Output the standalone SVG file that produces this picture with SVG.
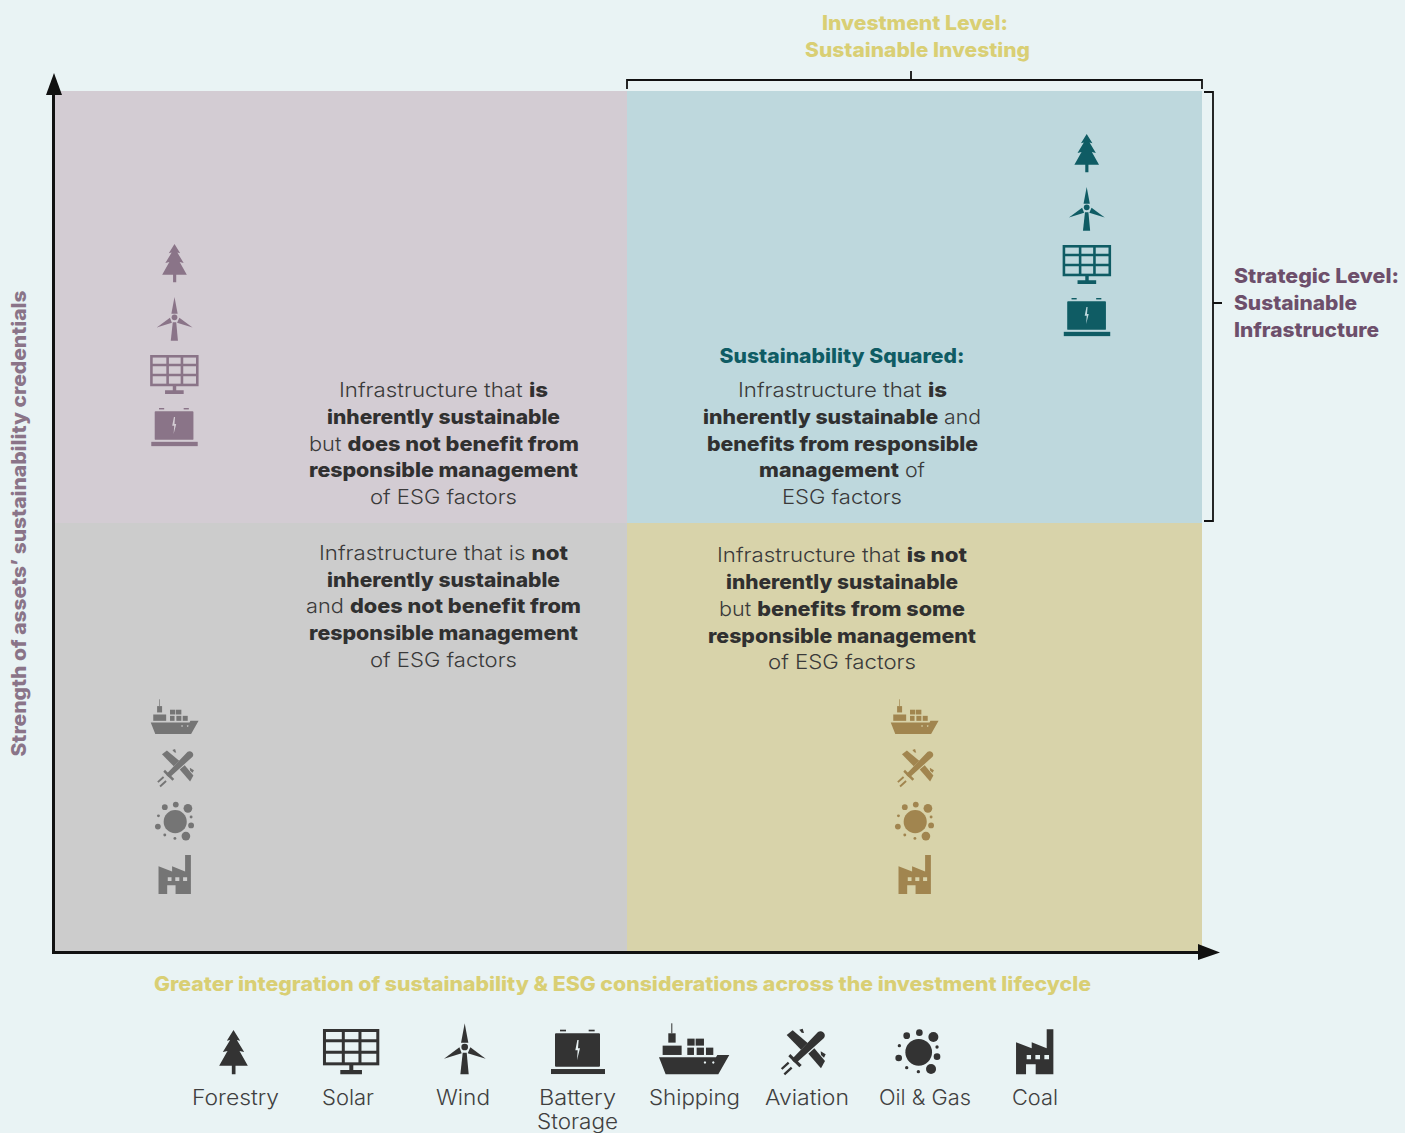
<svg xmlns="http://www.w3.org/2000/svg" xmlns:xlink="http://www.w3.org/1999/xlink" width="1405" height="1133" viewBox="0 0 1405 1133">
<style>
text{font-family:"Inter","Liberation Sans",sans-serif;}
.b{font-size:20px;fill:#3a3a3a;text-anchor:middle;font-weight:300}
.b tspan{font-weight:800;fill:#303030}
.l{font-size:21px;fill:#404040;text-anchor:middle;font-weight:300}
.h{font-size:20px;font-weight:800}
.y{fill:#d9cf74}.p{fill:#6d4f6b}.t{fill:#0f5c64}
.br{fill:none;stroke:#111;stroke-width:1.8}
</style>
<defs>
<g id="tree"><polygon points="0,0 20,32 10,30 32,66 18,63 43,107 6,107 6,133 -5,133 -5,107 -43,107 -18,63 -32,66 -10,30 -20,32" fill="currentColor"/></g>
<g id="solar"><g fill="none" stroke="currentColor" stroke-width="9"><rect x="-80.500" y="4.500" width="160" height="100"/><path d="M-24 4V105M26 4V105M-81 35H80M-81 70H80"/></g><path d="M-6 105H6V123H32V136H-33V123H-6Z" fill="currentColor"/></g>
<g id="wind" fill="currentColor"><polygon points="0,0 11,58 -11,58"/><circle cx="0" cy="71" r="10"/><polygon points="-13,153 12,153 6,88 -6,88"/><polygon points="-62,106 -16,72 -9,90"/><polygon points="63,106 17,72 9,90"/></g>
<g id="battery" fill="currentColor"><path fill-rule="evenodd" d="M-66 11H63Q66 11 66 14V108Q66 111 63 111H-66Q-69 111 -69 108V14Q-69 11 -66 11ZM-2 31L-8 62H-1L-3 91L6 56H0L2 31Z"/><rect x="-54" y="0" width="18" height="5"/><rect x="32" y="0" width="18" height="5"/><rect x="-81" y="118" width="162" height="15"/></g>
<g id="ship" fill="currentColor"><rect x="-66" y="0" width="3" height="30"/><rect x="-75" y="30" width="22" height="28"/><rect x="-92" y="67" width="57" height="28"/><rect x="-18" y="46" width="22" height="21"/><rect x="7" y="46" width="25" height="21"/><rect x="-18" y="73" width="20" height="22"/><rect x="10" y="73" width="22" height="22"/><rect x="38" y="73" width="22" height="22"/><path fill-rule="evenodd" d="M-103 102H68L72 95H108L75 153H-83ZM35 114a3.500 3.500 0 1 0 .01 0ZM60 114a3.500 3.500 0 1 0 .01 0Z"/></g>
<g id="plane" fill="currentColor"><path d="M39 3A13 13 0 0 1 57 21L-24 94Q-29 98 -36 91Q-41 86 -36 81Z"/><polygon points="-55,12 -37,-2 8,36 -12,56"/><polygon points="10,68 28,52 60,90 48,112"/><polygon points="-50,76 -44,69 -10,102 -17,109"/><polygon points="-17,-4 -7,-7 -3,6 -10,5"/><polygon points="47,61 62,70 57,80 48,72"/><path d="M-70 114L-49 95M-62 130L-40 110" stroke="currentColor" stroke-width="7" fill="none"/></g>
<g id="oil" fill="currentColor"><circle cx="0" cy="69" r="40"/><circle cx="2" cy="10" r="10"/><circle cx="44" cy="23" r="15"/><circle cx="-36" cy="19" r="10"/><circle cx="-58" cy="49" r="5"/><circle cx="55" cy="53" r="5"/><circle cx="-60" cy="86" r="10"/><circle cx="55" cy="82" r="10"/><circle cx="-36" cy="115" r="5"/><circle cx="-1" cy="127" r="5"/><circle cx="37" cy="119" r="15"/></g>
<g id="coal"><path fill="currentColor" fill-rule="evenodd" d="M-56 135V39L-9 57V39L36 57V0H56V135H3V105H-26V135ZM-24 77V90H-11V77ZM2 77V90H16V77ZM29 77V90H43V77Z"/></g>
</defs>
<rect id="background" width="1405" height="1133" fill="#e9f3f4"/>
<g id="quadrants">
<rect x="54" y="91" width="573" height="432" fill="#d3ccd3"/>
<rect x="627" y="91" width="575" height="432" fill="#bed8dd"/>
<rect x="54" y="523" width="573" height="428" fill="#cccccc"/>
<rect x="627" y="523" width="575" height="428" fill="#d8d3aa"/>
</g>
<g id="connectors">
<path d="M53.500 88V952.500H1203" fill="none" stroke="#111" stroke-width="3"/>
<polygon points="46,95 54,73 62,95" fill="#111"/>
<polygon points="1198,944 1220,952.500 1198,960" fill="#111"/>
<path class="br" d="M627 89V80H1202V89M911 80V71"/>
<path class="br" d="M1204 92H1213V521H1204M1213 303H1222"/>
</g>
<g id="quadrant-top-left">
<text class="b" x="443.500" y="397" textLength="209" lengthAdjust="spacingAndGlyphs">Infrastructure that <tspan>is</tspan></text>
<text class="b" x="443.500" y="424" textLength="233" lengthAdjust="spacingAndGlyphs"><tspan>inherently sustainable</tspan></text>
<text class="b" x="444" y="451" textLength="270" lengthAdjust="spacingAndGlyphs">but <tspan>does not benefit from</tspan></text>
<text class="b" x="443.500" y="477" textLength="269" lengthAdjust="spacingAndGlyphs"><tspan>responsible management</tspan></text>
<text class="b" x="443.500" y="504" textLength="147" lengthAdjust="spacingAndGlyphs">of ESG factors</text>
<g color="#8a7488">
<use xlink:href="#tree" href="#tree" transform="translate(174.500 244) scale(.2867)"/>
<use xlink:href="#wind" href="#wind" transform="translate(174.500 297) scale(.2867)"/>
<use xlink:href="#solar" href="#solar" transform="translate(174.500 355) scale(.2867)"/>
<use xlink:href="#battery" href="#battery" transform="translate(174.500 408) scale(.2867)"/>
</g>
</g>
<g id="quadrant-top-right">
<text class="h t" x="842" y="363" text-anchor="middle" textLength="245" lengthAdjust="spacingAndGlyphs">Sustainability Squared:</text>
<text class="b" x="842.500" y="397" textLength="209" lengthAdjust="spacingAndGlyphs">Infrastructure that <tspan>is</tspan></text>
<text class="b" x="842" y="424" textLength="278" lengthAdjust="spacingAndGlyphs"><tspan>inherently sustainable</tspan> and</text>
<text class="b" x="842.500" y="451" textLength="271" lengthAdjust="spacingAndGlyphs"><tspan>benefits from responsible</tspan></text>
<text class="b" x="842" y="477" textLength="166" lengthAdjust="spacingAndGlyphs"><tspan>management</tspan> of</text>
<text class="b" x="842" y="504" textLength="120" lengthAdjust="spacingAndGlyphs">ESG factors</text>
<g color="#0f5c64">
<use xlink:href="#tree" href="#tree" transform="translate(1086.700 134) scale(.2867)"/>
<use xlink:href="#wind" href="#wind" transform="translate(1086.700 187) scale(.2867)"/>
<use xlink:href="#solar" href="#solar" transform="translate(1087 245) scale(.2867)"/>
<use xlink:href="#battery" href="#battery" transform="translate(1087 298) scale(.2867)"/>
</g>
</g>
<g id="quadrant-bottom-left">
<text class="b" x="443.500" y="560" textLength="249" lengthAdjust="spacingAndGlyphs">Infrastructure that is <tspan>not</tspan></text>
<text class="b" x="443.500" y="587" textLength="233" lengthAdjust="spacingAndGlyphs"><tspan>inherently sustainable</tspan></text>
<text class="b" x="443.500" y="613" textLength="275" lengthAdjust="spacingAndGlyphs">and <tspan>does not benefit from</tspan></text>
<text class="b" x="443.500" y="640" textLength="269" lengthAdjust="spacingAndGlyphs"><tspan>responsible management</tspan></text>
<text class="b" x="443.500" y="667" textLength="147" lengthAdjust="spacingAndGlyphs">of ESG factors</text>
<g color="#757575">
<use xlink:href="#ship" href="#ship" transform="translate(174.100 699.300) scale(.2267)"/>
<use xlink:href="#plane" href="#plane" transform="translate(177 751) scale(.2733)"/>
<use xlink:href="#oil" href="#oil" transform="translate(175.200 801.700) scale(.289)"/>
<use xlink:href="#coal" href="#coal" transform="translate(174.700 855) scale(.289)"/>
</g>
</g>
<g id="quadrant-bottom-right">
<text class="b" x="842" y="562" textLength="250" lengthAdjust="spacingAndGlyphs">Infrastructure that <tspan>is not</tspan></text>
<text class="b" x="842" y="589" textLength="232" lengthAdjust="spacingAndGlyphs"><tspan>inherently sustainable</tspan></text>
<text class="b" x="842" y="616" textLength="246" lengthAdjust="spacingAndGlyphs">but <tspan>benefits from some</tspan></text>
<text class="b" x="842" y="643" textLength="268" lengthAdjust="spacingAndGlyphs"><tspan>responsible management</tspan></text>
<text class="b" x="842" y="669" textLength="148" lengthAdjust="spacingAndGlyphs">of ESG factors</text>
<g color="#a1854f">
<use xlink:href="#ship" href="#ship" transform="translate(914.100 699.300) scale(.2267)"/>
<use xlink:href="#plane" href="#plane" transform="translate(917 751) scale(.2733)"/>
<use xlink:href="#oil" href="#oil" transform="translate(915.200 801.700) scale(.289)"/>
<use xlink:href="#coal" href="#coal" transform="translate(914.700 855) scale(.289)"/>
</g>
</g>
<g id="axis-labels">
<text class="h y" x="915" y="30" text-anchor="middle" textLength="186" lengthAdjust="spacingAndGlyphs">Investment Level:</text>
<text class="h y" x="917.500" y="57" text-anchor="middle" textLength="225" lengthAdjust="spacingAndGlyphs">Sustainable Investing</text>
<text class="h p" x="1234" y="283" textLength="165" lengthAdjust="spacingAndGlyphs">Strategic Level:</text>
<text class="h p" x="1234" y="310" textLength="123" lengthAdjust="spacingAndGlyphs">Sustainable</text>
<text class="h p" x="1234" y="337" textLength="145" lengthAdjust="spacingAndGlyphs">Infrastructure</text>
<text class="h y" x="622.500" y="991" text-anchor="middle" textLength="937" lengthAdjust="spacingAndGlyphs">Greater integration of sustainability &amp; ESG considerations across the investment lifecycle</text>
<text class="h" fill="#8a7488" transform="translate(26 523.500) rotate(-90)" text-anchor="middle" textLength="466" lengthAdjust="spacingAndGlyphs">Strength of assets’ sustainability credentials</text>
</g>
<g id="legend-forestry" color="#333"><use xlink:href="#tree" href="#tree" transform="translate(233.500 1030) scale(.3333)"/><text class="l" x="235.500" y="1105" textLength="87" lengthAdjust="spacingAndGlyphs">Forestry</text></g>
<g id="legend-solar" color="#333"><use xlink:href="#solar" href="#solar" transform="translate(351.300 1029) scale(.3333)"/><text class="l" x="348" y="1105" textLength="52" lengthAdjust="spacingAndGlyphs">Solar</text></g>
<g id="legend-wind" color="#333"><use xlink:href="#wind" href="#wind" transform="translate(464.700 1023.300) scale(.3333)"/><text class="l" x="463" y="1105" textLength="54" lengthAdjust="spacingAndGlyphs">Wind</text></g>
<g id="legend-battery" color="#333"><use xlink:href="#battery" href="#battery" transform="translate(578 1029.700) scale(.3333)"/><text class="l" x="577.500" y="1105" textLength="77" lengthAdjust="spacingAndGlyphs">Battery</text><text class="l" x="577.500" y="1129" textLength="81" lengthAdjust="spacingAndGlyphs">Storage</text></g>
<g id="legend-shipping" color="#333"><use xlink:href="#ship" href="#ship" transform="translate(693.300 1023.300) scale(.3333)"/><text class="l" x="694.500" y="1105" textLength="91" lengthAdjust="spacingAndGlyphs">Shipping</text></g>
<g id="legend-aviation" color="#333"><use xlink:href="#plane" href="#plane" transform="translate(805 1031) scale(.3333)"/><text class="l" x="807" y="1105" textLength="84" lengthAdjust="spacingAndGlyphs">Aviation</text></g>
<g id="legend-oil-gas" color="#333"><use xlink:href="#oil" href="#oil" transform="translate(918.700 1029.300) scale(.3333)"/><text class="l" x="925" y="1105" textLength="92" lengthAdjust="spacingAndGlyphs">Oil &amp; Gas</text></g>
<g id="legend-coal" color="#333"><use xlink:href="#coal" href="#coal" transform="translate(1034.700 1029.300) scale(.3333)"/><text class="l" x="1035" y="1105" textLength="46" lengthAdjust="spacingAndGlyphs">Coal</text></g>
</svg>
